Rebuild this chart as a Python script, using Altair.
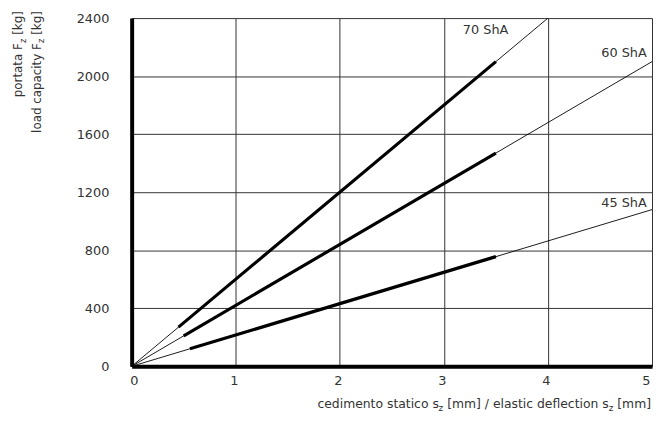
import altair as alt
import pandas as pd

FONT = "DejaVu Sans"
TXT = "#333333"

# ---- data ----
series = ["70 ShA", "60 ShA", "45 ShA"]
# thin line: from origin to end of chart
thin_x0 = [0.0, 0.0, 0.0]
thin_y0 = [0, 0, 0]
thin_x1 = [4.0, 5.0, 5.0]
thin_y1 = [2400, 2100, 1080]
# thick (measured) segment
thick_x0 = [0.45, 0.50, 0.56]
thick_y0 = [270, 210, 121]
thick_x1 = [3.5, 3.5, 3.5]
thick_y1 = [2100, 1470, 756]
# label anchors (data coordinates, right aligned)
label_x = [3.62, 4.95, 4.95]
label_y = [2291, 2134, 1098]

x_ticks = [0, 1, 2, 3, 4, 5]
y_ticks = [0, 400, 800, 1200, 1600, 2000, 2400]

rows = []
for i, s in enumerate(series):
    rows.append({"s": s, "seg": "thin", "x": thin_x0[i], "y": thin_y0[i], "o": 0})
    rows.append({"s": s, "seg": "thin", "x": thin_x1[i], "y": thin_y1[i], "o": 1})
    rows.append({"s": s, "seg": "thick", "x": thick_x0[i], "y": thick_y0[i], "o": 0})
    rows.append({"s": s, "seg": "thick", "x": thick_x1[i], "y": thick_y1[i], "o": 1})
df = pd.DataFrame(rows)
labels = pd.DataFrame({"s": series, "x": label_x, "y": label_y})

W, H = 526, 352

xs = alt.Scale(domain=[0, 5], nice=False)
ys = alt.Scale(domain=[0, 2400], nice=False)

xax = alt.Axis(values=x_ticks, title=None, ticks=False, labelPadding=8, labelOffset=-2,
               domainColor="black", domainWidth=4, gridColor="#333333", gridWidth=1,
               labelFont=FONT, labelFontSize=13, labelColor=TXT, format="d")
yax = alt.Axis(values=y_ticks, title=None, ticks=False, labelPadding=23,
               domainColor="black", domainWidth=4, gridColor="#333333", gridWidth=1,
               labelFont=FONT, labelFontSize=13, labelColor=TXT, format="d")

base = alt.Chart(df)
thin = base.transform_filter(alt.datum.seg == "thin").mark_line(
    color="black", strokeWidth=0.9).encode(
    x=alt.X("x:Q", scale=xs, axis=xax),
    y=alt.Y("y:Q", scale=ys, axis=yax),
    detail="s:N", order="o:Q")
thick = base.transform_filter(alt.datum.seg == "thick").mark_line(
    color="black", strokeWidth=3.2).encode(
    x=alt.X("x:Q", scale=xs), y=alt.Y("y:Q", scale=ys),
    detail="s:N", order="o:Q")
lab = alt.Chart(labels).mark_text(align="right", baseline="alphabetic", font=FONT,
                                  fontSize=13, color=TXT).encode(
    x=alt.X("x:Q", scale=xs), y=alt.Y("y:Q", scale=ys), text="s:N")


def txt(s, x, y, size=12.5, align="left", angle=0):
    return alt.Chart(alt.Data(values=[{}])).mark_text(
        text=s, align=align, baseline="alphabetic", font=FONT, fontSize=size,
        angle=angle, color=TXT).encode(x=alt.value(x), y=alt.value(y))


titles = [
    # x title (pieces chained from the right edge)
    txt("[mm]", 525, 394, align="right"),
    txt("z", 486.9, 397, size=9, align="right"),
    txt("[mm] / elastic deflection s", 482.2, 394, align="right"),
    txt("z", 315, 397, size=9, align="right"),
    txt("cedimento statico s", 310.5, 394, align="right"),
    # y title line 1
    txt("[kg]", -110.5, -7, size=12, align="right", angle=270),
    txt("z", -107, 20.8, size=8.5, align="right", angle=270),
    txt("portata F", -110.5, 25.3, size=12, align="right", angle=270),
    # y title line 2
    txt("[kg]", -92, -7, size=12, align="right", angle=270),
    txt("z", -88.5, 20.8, size=8.5, align="right", angle=270),
    txt("load capacity F", -92, 25.3, size=12, align="right", angle=270),
]

chart = alt.layer(thin, thick, lab, *titles).properties(
    width=W, height=H,
    autosize=alt.AutoSizeParams(type="none"),
    padding={"left": 125, "top": 8, "right": 1, "bottom": 47},
).configure_view(strokeWidth=0)

chart.save("out.html", embed_options={"renderer": "svg", "actions": False})
